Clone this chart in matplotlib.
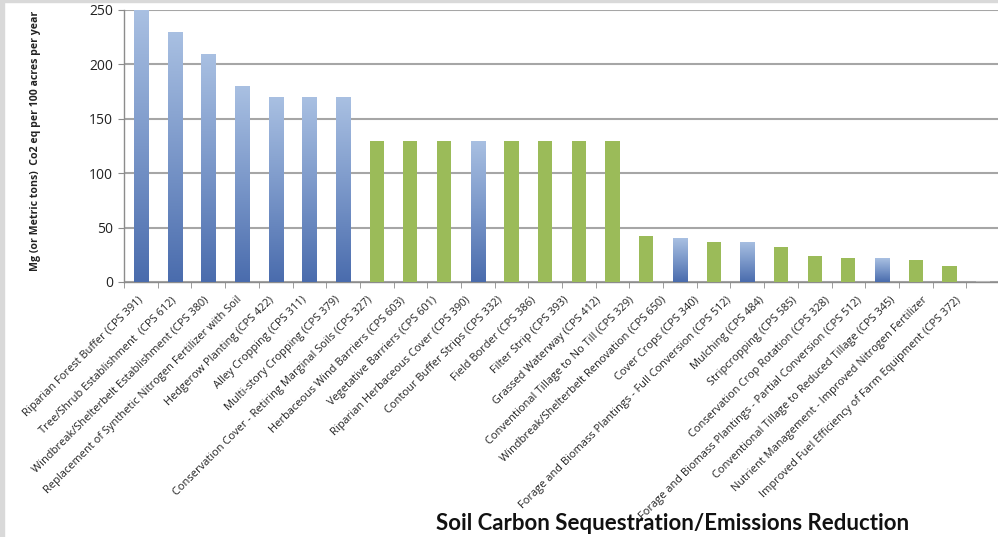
import numpy as np
import matplotlib
matplotlib.use("Agg")
import matplotlib.pyplot as plt
from matplotlib.patches import Rectangle

practices = [
    "Riparian Forest Buffer (CPS 391)",
    "Tree/Shrub Establishment  (CPS 612)",
    "Windbreak/Shelterbelt Establishment (CPS 380)",
    "Replacement of Synthetic Nitrogen Fertilizer with Soil",
    "Hedgerow Planting (CPS 422)",
    "Alley Cropping (CPS 311)",
    "Multi-story Cropping (CPS 379)",
    "Conservation Cover - Retiring Marginal Soils (CPS 327)",
    "Herbaceous Wind Barriers (CPS 603)",
    "Vegetative Barriers (CPS 601)",
    "Riparian Herbaceous Cover (CPS 390)",
    "Contour Buffer Strips (CPS 332)",
    "Field Border (CPS 386)",
    "Filter Strip (CPS 393)",
    "Grassed Waterway (CPS 412)",
    "Conventional Tillage to No Till (CPS 329)",
    "Windbreak/Shelterbelt Renovation (CPS 650)",
    "Cover Crops (CPS 340)",
    "Forage and Biomass Plantings - Full Conversion (CPS 512)",
    "Mulching (CPS 484)",
    "Stripcropping (CPS 585)",
    "Conservation Crop Rotation (CPS 328)",
    "Forage and Biomass Plantings - Partial Conversion (CPS 512)",
    "Conventional Tillage to Reduced Tillage (CPS 345)",
    "Nutrient Management - Improved Nitrogen Fertilizer",
    "Improved Fuel Efficiency of Farm Equipment (CPS 372)",
]
co2_per_100_acres = [250, 230, 210, 180, 170, 170, 170, 130, 130, 130, 130, 130, 130,
                     130, 130, 42, 40, 37, 37, 32, 24, 22, 22, 20, 15, 1]
# "w" = woody / perennial planting (blue), "c" = cropland practice (green)
group = ["w", "w", "w", "w", "w", "w", "w", "c", "c", "c", "w", "c", "c",
         "c", "c", "c", "w", "c", "w", "c", "c", "c", "w", "c", "c", "g"]
y_ticks = [0, 50, 100, 150, 200, 250]

GREEN = "#9bbb59"
GREY_BAR = "#b8b8b8"
blue_cmap = matplotlib.colors.LinearSegmentedColormap.from_list(
    "bluegrad", ["#4a6cad", "#7a97c9", "#a9c0e2"])

fig = plt.figure(figsize=(9.98, 5.37), dpi=100)
ax = fig.add_axes([0.1243, 0.4749, 0.8777, 0.5065])

x = np.arange(len(practices))
colors = [GREEN if g == "c" else (GREY_BAR if g == "g" else "none") for g in group]
bars = ax.bar(x, co2_per_100_acres, width=0.42, color=colors, zorder=3, linewidth=0)

# vertical gradient fill for the blue bars, clipped to each bar
grad = np.linspace(0, 1, 256).reshape(-1, 1)
for b, g in zip(bars, group):
    if g != "w":
        continue
    x0, y0 = b.get_x(), b.get_y()
    w, h = b.get_width(), b.get_height()
    im = ax.imshow(grad, cmap=blue_cmap, origin="lower", aspect="auto",
                   extent=[x0, x0 + w, y0, y0 + h], zorder=3)
    im.set_clip_path(b)

ax.set_xlim(-0.5, len(practices) - 0.5)
ax.set_ylim(0, 250)
ax.set_yticks(y_ticks)
ax.yaxis.grid(True, color="#a6a6a6", linewidth=1.5, zorder=0)
ax.set_axisbelow(True)

for side in ["top", "right"]:
    ax.spines[side].set_visible(False)
for side in ["left", "bottom"]:
    ax.spines[side].set_color("#8c8c8c")
    ax.spines[side].set_linewidth(1.0)

# category labels sit slightly tighter than the bars, drifting left along the axis
label_spread = 0.97
ax.set_xticks(x * label_spread - 0.085)
ax.set_xticklabels(practices, rotation=45, ha="right", rotation_mode="anchor",
                   fontsize=7.9, family="Open Sans", color="#222222")
ax.tick_params(axis="x", length=0, pad=9)
ax.set_xticks(np.arange(len(practices) + 1) - 0.5, minor=True)
ax.tick_params(axis="x", which="minor", length=4, color="#8c8c8c", direction="out")
ax.tick_params(axis="y", length=4, color="#8c8c8c", labelsize=10, pad=4,
               labelcolor="#222222")
for lbl in ax.get_yticklabels():
    lbl.set_family("Open Sans")

fig.text(0.036, 0.737, "Mg (or Metric tons)  Co2 eq per 100 acres per year",
         rotation=90, ha="center", va="center", fontsize=7.6, fontweight="bold",
         family="Open Sans", color="#222222")

fig.text(0.674, 0.026, "Soil Carbon Sequestration/Emissions Reduction",
         ha="center", va="center", fontsize=16, fontweight="bold",
         family="Lato", color="#111111")

# light frame on the top and left edges of the slide
fig.patches.append(Rectangle((0, 0), 0.004, 1, transform=fig.transFigure,
                             color="#d9d9d9", zorder=0))
fig.patches.append(Rectangle((0, 0.997), 1, 0.003, transform=fig.transFigure,
                             color="#d9d9d9", zorder=0))

fig.savefig("out.png", dpi=100)
